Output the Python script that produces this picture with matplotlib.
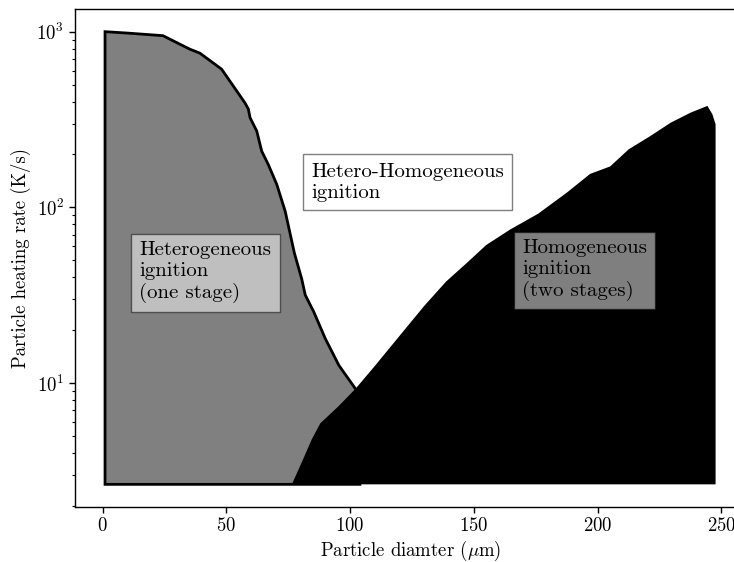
#!/usr/bin/env python3

# ========================================================================
#
# Imports
#
# ========================================================================
import matplotlib as mpl
mpl.use('Agg')
import matplotlib.pyplot as plt


# ========================================================================
#
# Some defaults variables
#
# ========================================================================
plt.rc('font', family='serif', serif=['cmr10'])
plt.rc('mathtext', fontset='cm')
plt.rc('axes', unicode_minus=False)
plt.rc('axes.formatter', use_mathtext=True)

# Heterogeneous ignition limit (upper boundary of the grey region)
diam_het = [1.0, 10.0, 24.4, 35.2, 39.3, 48.1, 57.5, 58.9, 59.6, 62.3,
            64.3, 67.0, 70.4, 73.8, 77.5, 80.5, 81.9, 85.3, 90.0, 95.5,
            102.2, 104.0]
rate_het = [1000, 982, 949, 796, 755, 612, 394, 363, 324, 272,
            209, 175, 135, 95, 55, 39, 31.7, 25.5, 17.9, 12.6,
            9.27, 8.3]

# Homogeneous (two stage) ignition limit (upper boundary of the black region)
diam_hom = [76.5, 80.5, 84.6, 88.0, 95.0, 102.2, 110.0, 121.9, 130.0,
            138.8, 147.0, 155.0, 164.5, 176.0, 187.5, 197.0,
            205.1, 212.6, 221.4, 229.5, 237.6, 244.4, 246.4, 247.7]
rate_hom = [2.65, 3.54, 4.8, 5.9, 7.3, 9.27, 12.5, 20, 27.5,
            37.8, 48, 61, 74.5, 92, 121, 155,
            171, 214, 255, 303, 346, 378, 339, 297]

# lowest heating rate considered
rate_min = 2.65

labels = {'het': 'Heterogeneous\nignition\n(one stage)',
          'mix': 'Hetero-Homogeneous\nignition',
          'hom': 'Homogeneous\nignition\n(two stages)'}


# ========================================================================
#
# Main
#
# ========================================================================
fig = plt.figure(figsize=(7.34, 5.62), dpi=100)
ax = fig.add_axes([0.1015, 0.0979, 0.915, 0.886])

# grey region: heterogeneous ignition
xs = diam_het + [diam_het[-1], diam_het[0]]
ys = rate_het + [rate_min, rate_min]
ax.fill(xs, ys, facecolor='gray', edgecolor='k', lw=2, zorder=2)

# black region: homogeneous ignition
xs = diam_hom + [diam_hom[-1]]
ys = rate_hom + [rate_min]
ax.fill(xs, ys, facecolor='k', edgecolor='none', zorder=3)

ax.set_yscale('log')

# region annotations
box = dict(boxstyle='square,pad=0.4', facecolor='white', alpha=0.5)
ax.text(14.8, 42.7, labels['het'], fontsize=15, ha='left', va='center',
        bbox=box, zorder=5)
ax.text(84.2, 139, labels['mix'], fontsize=15, ha='left', va='center',
        bbox=box, zorder=5)
ax.text(169.5, 44, labels['hom'], fontsize=15, ha='left', va='center',
        bbox=box, zorder=5)

# ======================================================================
# Format the plot
ax.set_xticks([0, 50, 100, 150, 200, 250])
ax.set_xlabel(r"Particle diamter ($\mu$m)", fontsize=13.5, labelpad=2.5)
ax.set_ylabel(r"Particle heating rate (K/s)", fontsize=13.5)
ax.tick_params(axis='both', which='major', labelsize=13.5, width=1.0,
               length=4)
ax.tick_params(axis='y', which='minor', width=0.8, length=2.5)
for s in ax.spines.values():
    s.set_linewidth(1.0)

plt.savefig('out.png', format='png', dpi=100)
